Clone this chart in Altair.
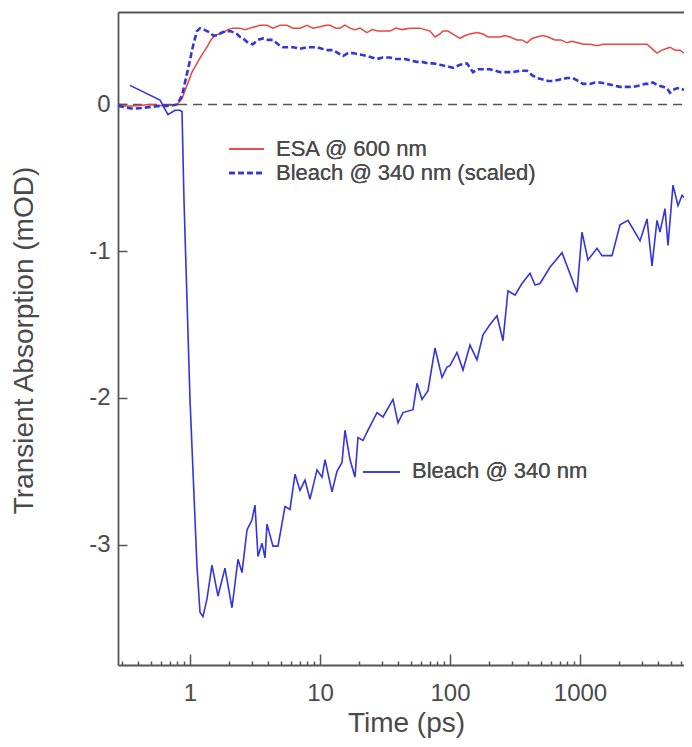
import altair as alt
import pandas as pd

# ---------------- data (time in ps, signal in mOD) ----------------
esa_t = [0.28, 0.364, 0.49, 0.64, 0.794, 0.868, 0.948, 1.036, 1.132, 1.237, 1.351, 1.45, 1.557, 1.671, 1.794,
         1.96, 2.142, 2.424, 2.649, 2.894, 3.162, 3.455, 3.911, 4.35, 4.924, 5.574, 6.198, 7.018, 7.943, 8.836,
         10.0, 11.12, 11.94, 13.28, 14.25, 15.57, 17.01, 18.59, 20.31, 22.98, 25.12, 27.94, 30.52, 34.55, 38.42,
         42.73, 49.24, 53.81, 58.77, 64.24, 70.18, 76.66, 83.77, 88.33, 96.5, 109.3, 119.4, 130.5, 142.5, 161.3,
         179.4, 196.0, 214.2, 242.4, 264.9, 289.4, 327.7, 357.9, 391.1, 427.3, 466.9, 519.3, 567.4, 642.4, 714.2,
         794.3, 867.9, 965.2, 1055, 1194, 1351, 1503, 1642, 1794, 2031, 2299, 2557, 2894, 3277, 3580, 3911, 4274,
         4587, 4924, 5381, 5877, 6310, 6654]
esa_v = [-0.01, -0.01, 0.0, -0.01, 0.0, 0.04, 0.13, 0.22, 0.28, 0.34, 0.39, 0.44, 0.47, 0.48, 0.49,
         0.51, 0.52, 0.52, 0.51, 0.52, 0.53, 0.54, 0.54, 0.52, 0.54, 0.54, 0.52, 0.52, 0.54, 0.52,
         0.53, 0.54, 0.54, 0.52, 0.52, 0.54, 0.52, 0.51, 0.52, 0.49, 0.51, 0.50, 0.50, 0.50, 0.52,
         0.51, 0.52, 0.52, 0.52, 0.51, 0.50, 0.46, 0.48, 0.50, 0.50, 0.47, 0.45, 0.47, 0.48, 0.49,
         0.48, 0.46, 0.46, 0.46, 0.47, 0.46, 0.44, 0.44, 0.42, 0.45, 0.46, 0.47, 0.46, 0.44, 0.44,
         0.42, 0.43, 0.42, 0.41, 0.41, 0.40, 0.41, 0.41, 0.41, 0.41, 0.41, 0.41, 0.41, 0.41, 0.38, 0.35, 0.37,
         0.38, 0.39, 0.37, 0.37, 0.35, 0.34]

scaled_t = [0.28, 0.364, 0.467, 0.588, 0.702, 0.794, 0.868, 0.948, 1.0, 1.036, 1.093, 1.132, 1.194, 1.282,
            1.351, 1.425, 1.503, 1.613, 1.763, 1.892, 2.031, 2.181, 2.299, 2.424, 2.557, 2.794, 3.052, 3.335,
            3.643, 3.981, 4.35, 4.753, 5.193, 5.574, 6.198, 7.018, 7.943, 8.836, 9.483, 10.36, 11.52, 12.59,
            13.76, 15.03, 16.42, 17.94, 20.31, 22.98, 25.12, 27.45, 30.52, 34.55, 38.42, 41.25, 45.06, 49.24,
            55.76, 60.9, 67.75, 73.99, 83.77, 94.83, 105.5, 119.4, 135.1, 150.3, 164.2, 179.4, 203.1, 221.9,
            242.4, 274.5, 305.2, 345.5, 391.1, 427.3, 466.9, 519.3, 567.4, 619.8, 701.8, 794.3, 883.6, 965.2,
            1055, 1194, 1305, 1425, 1613, 1794, 2031, 2299, 2557, 2894, 3162, 3455, 3643, 3981, 4350, 4669,
            4924, 5193, 5576, 5877, 6310, 6654]
scaled_v = [-0.01, -0.03, -0.02, -0.01, -0.01, 0.0, 0.06, 0.21, 0.30, 0.37, 0.45, 0.50, 0.52, 0.51,
            0.50, 0.49, 0.47, 0.47, 0.49, 0.50, 0.50, 0.49, 0.48, 0.46, 0.45, 0.42, 0.41, 0.44,
            0.45, 0.44, 0.44, 0.41, 0.39, 0.39, 0.39, 0.38, 0.39, 0.39, 0.39, 0.38, 0.37, 0.37,
            0.35, 0.33, 0.35, 0.35, 0.34, 0.33, 0.32, 0.31, 0.32, 0.32, 0.31, 0.31, 0.31, 0.30,
            0.29, 0.29, 0.28, 0.28, 0.27, 0.26, 0.25, 0.27, 0.28, 0.22, 0.24, 0.24, 0.24, 0.23,
            0.22, 0.22, 0.22, 0.23, 0.23, 0.20, 0.18, 0.17, 0.16, 0.16, 0.17, 0.18, 0.18, 0.16,
            0.14, 0.14, 0.15, 0.15, 0.14, 0.13, 0.12, 0.12, 0.12, 0.13, 0.14, 0.14, 0.15, 0.13, 0.12, 0.11,
            0.08, 0.10, 0.11, 0.11, 0.10, 0.10]

bleach_t = [0.3455, 0.588, 0.677, 0.767, 0.838, 0.868, 0.899, 1.0, 1.132, 1.194, 1.259, 1.351, 1.476, 1.642,
            1.858, 2.104, 2.34, 2.512, 2.745, 2.999, 3.162, 3.335, 3.58, 3.775, 3.911, 4.35, 4.753, 5.381,
            5.877, 6.424, 7.018, 7.665, 8.377, 9.483, 10.36, 10.93, 12.37, 13.51, 14.76, 15.57, 17.01, 18.59,
            19.6, 21.42, 23.4, 27.45, 30.52, 36.43, 39.81, 43.5, 51.93, 55.76, 60.9, 67.75, 76.66, 86.8, 94.83,
            100, 113.2, 125.9, 142.5, 161.3, 179.4, 203.1, 229.9, 255.6, 279.3, 316.2, 357.9, 412.5, 450.7,
            492.4, 587.7, 726.9, 948.3, 1036, 1152, 1351, 1476, 1763, 2031, 2340, 2894, 3277, 3580, 3911,
            4125, 4506, 4753, 5193, 5674, 6091, 6654]
bleach_v = [0.13, 0.03, -0.07, -0.04, -0.04, -0.05, -0.65, -2.01, -3.15, -3.46, -3.49, -3.37, -3.14, -3.35,
            -3.16, -3.43, -3.10, -3.19, -2.90, -2.83, -2.73, -3.08, -2.99, -3.09, -2.86, -3.01, -3.01, -2.74,
            -2.76, -2.52, -2.63, -2.56, -2.69, -2.49, -2.54, -2.42, -2.64, -2.50, -2.44, -2.22, -2.42, -2.54,
            -2.27, -2.29, -2.22, -2.10, -2.13, -2.01, -2.17, -2.10, -2.08, -1.90, -2.01, -1.95, -1.66, -1.86, -1.79,
            -1.78, -1.69, -1.81, -1.64, -1.74, -1.57, -1.50, -1.44, -1.61, -1.27, -1.30, -1.22, -1.15, -1.23,
            -1.22, -1.11, -1.01, -1.28, -0.87, -1.06, -0.98, -1.03, -1.03, -0.82, -0.79, -0.93, -0.78, -1.10, -0.79,
            -0.87, -0.71, -0.96, -0.55, -0.69, -0.62, -0.65]

x_domain = [0.2794, 6310]
y_domain = [-3.82, 0.63]
zero_t = x_domain
zero_v = [0, 0]
major_ticks = [1, 10, 100, 1000]
minor_ticks = [0.3, 0.4, 0.5, 0.6, 0.7, 0.8, 0.9, 2, 3, 4, 5, 6, 7, 8, 9, 20, 30, 40, 50, 60, 70, 80, 90,
               200, 300, 400, 500, 600, 700, 800, 900, 2000, 3000, 4000, 5000, 6000]
y_ticks = [0, -1, -2, -3]

# ---------------- styling ----------------
FONT = "Liberation Sans"
TXT = "#4a4a4a"
FRAME = "#555555"
RED = "#e8463f"
BLUE = "#3434dc"

xs = alt.Scale(type="log", domain=x_domain, nice=False)
ys = alt.Scale(domain=y_domain, nice=False, zero=False)

ax_minor = alt.Axis(orient="bottom", values=minor_ticks, tickSize=4, offset=-4, domain=False,
                    labels=False, title=None, grid=False, tickColor=FRAME, tickWidth=1.5)
ax_major = alt.Axis(orient="bottom", values=major_ticks, tickSize=11, offset=-11, domain=False,
                    labels=True, format="d", labelFont=FONT, labelFontSize=24, labelColor=TXT,
                    labelPadding=16, labelFlush=False, title="Time (ps)", titleFont=FONT, titleFontSize=28,
                    titleFontWeight="normal", titleColor=TXT, titleX=288, titleY=77,
                    titleBaseline="alphabetic", grid=False, tickColor=FRAME, tickWidth=1.5)
ax_bottom = alt.Axis(orient="bottom", domain=True, domainColor=FRAME, domainWidth=1.8, ticks=False,
                     labels=False, title=None, grid=False)
ax_top = alt.Axis(orient="top", domain=True, domainColor=FRAME, domainWidth=1.8, ticks=False,
                  labels=False, title=None, grid=False)
ax_yticks = alt.Axis(orient="left", values=y_ticks, tickSize=9, offset=-9, domain=False,
                     labelExpr="toString(datum.value)", labelFont=FONT, labelFontSize=24,
                     labelColor=TXT, labelPadding=8, labelFlush=False,
                     title="Transient Absorption (mOD)", titleFont=FONT, titleFontSize=28,
                     titleFontWeight="normal", titleColor=TXT, titleX=-103, titleY=328,
                     titleBaseline="middle", grid=False, tickColor=FRAME, tickWidth=1.5)
ax_left = alt.Axis(orient="left", domain=True, domainColor=FRAME, domainWidth=1.8, ticks=False,
                   labels=False, title=None, grid=False)

zero_df = pd.DataFrame({"t": zero_t, "v": zero_v})
esa_df = pd.DataFrame({"t": esa_t, "v": esa_v})
scaled_df = pd.DataFrame({"t": scaled_t, "v": scaled_v})
bleach_df = pd.DataFrame({"t": bleach_t, "v": bleach_v})

zero = alt.Chart(zero_df).mark_line(color=FRAME, strokeWidth=1.5, strokeDash=[9, 6]).encode(
    x=alt.X("t:Q", scale=xs, axis=ax_top),
    y=alt.Y("v:Q", scale=ys, axis=ax_left),
)
esa = alt.Chart(esa_df).mark_line(color=RED, strokeWidth=1.5).encode(
    x=alt.X("t:Q", scale=xs, axis=ax_minor),
    y=alt.Y("v:Q", scale=ys, axis=ax_yticks),
)
scaled = alt.Chart(scaled_df).mark_line(color=BLUE, strokeWidth=2.6, strokeDash=[6, 3]).encode(
    x=alt.X("t:Q", scale=xs, axis=ax_major),
    y=alt.Y("v:Q", scale=ys, axis=None),
)
bleach = alt.Chart(bleach_df).mark_line(color=BLUE, strokeWidth=1.6).encode(
    x=alt.X("t:Q", scale=xs, axis=ax_bottom),
    y=alt.Y("v:Q", scale=ys, axis=None),
)

def sample(x1, x2, y, color, dash=None, width=1.6):
    kw = dict(color=color, strokeWidth=width)
    if dash:
        kw["strokeDash"] = dash
    return alt.Chart(zero_df).mark_rule(**kw).encode(
        x=alt.value(x1), x2=alt.value(x2), y=alt.value(y))

def label(x, y, txt):
    return alt.Chart(zero_df).mark_text(align="left", baseline="middle", font=FONT, fontSize=22,
                                        color=TXT).encode(x=alt.value(x), y=alt.value(y),
                                                          text=alt.value(txt))

legend = [
    sample(111, 146, 137, RED),
    label(158, 137, "ESA @ 600 nm"),
    sample(111, 146, 161, BLUE, dash=[6, 3], width=2.6),
    label(158, 161, "Bleach @ 340 nm (scaled)"),
    sample(245, 282, 460, BLUE, width=1.6),
    label(294, 459, "Bleach @ 340 nm"),
]

chart = alt.layer(zero, esa, scaled, bleach, *legend).resolve_axis(
    x="independent", y="independent"
).properties(
    width=566, height=653,
    padding={"left": 110, "top": 4, "right": 0, "bottom": 74},
    autosize=alt.AutoSizeParams(type="none"),
).configure_view(stroke=None).configure_axis(grid=False)

chart.save("out.html", embed_options={"renderer": "svg", "actions": False})
